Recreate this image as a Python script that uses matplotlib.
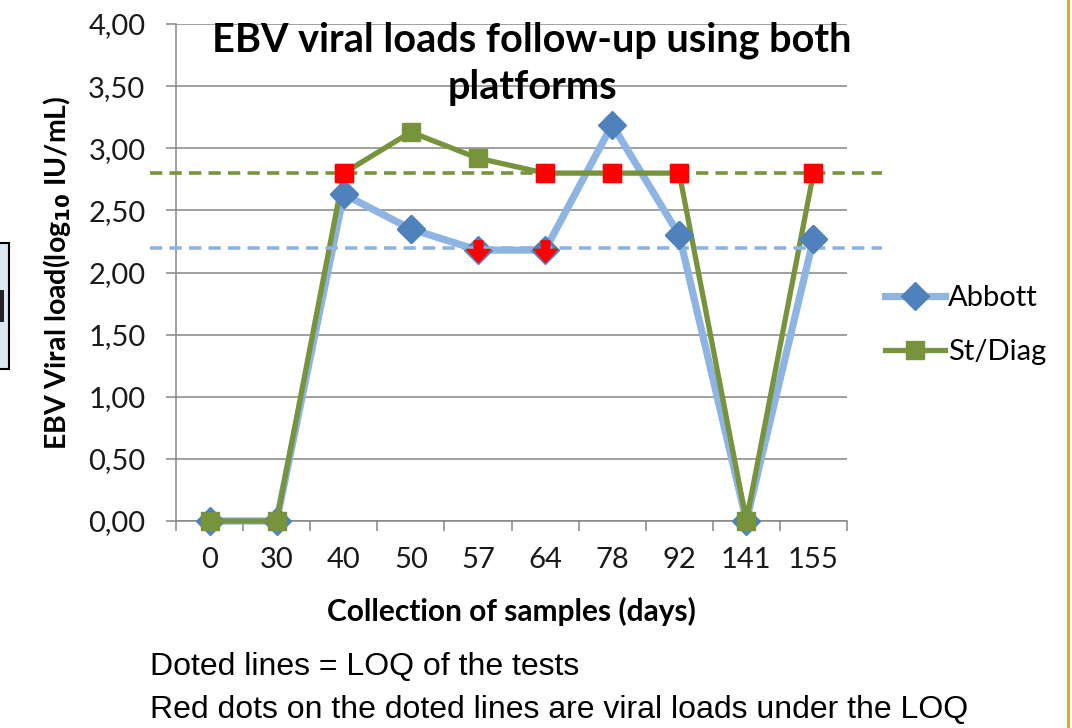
import matplotlib
matplotlib.use("Agg")
import matplotlib.pyplot as plt
from matplotlib.path import Path
from matplotlib.patches import Rectangle
from matplotlib.lines import Line2D

# --- data ---
days = ["0", "30", "40", "50", "57", "64", "78", "92", "141", "155"]
abbott = [0.00, 0.00, 2.63, 2.35, 2.18, 2.18, 3.19, 2.30, 0.00, 2.27]
stdiag = [0.00, 0.00, 2.80, 3.13, 2.92, 2.80, 2.80, 2.80, 0.00, 2.80]
loq_abbott = 2.20
loq_stdiag = 2.80
below_abbott = ["57", "64"]                       # red arrows on Abbott
below_stdiag = ["40", "64", "78", "92", "155"]    # red squares on St/Diag
yticks = [0, 0.5, 1.0, 1.5, 2.0, 2.5, 3.0, 3.5, 4.0]

BLUE_LINE = "#8DB4E2"
BLUE_MARK = "#4F81BD"
GREEN = "#77933C"
GRID = "#868686"
FONT = ["Lato", "DejaVu Sans"]

plt.rcParams["font.family"] = FONT

fig = plt.figure(figsize=(10.72, 7.28), dpi=100)
ax = fig.add_axes([176/1072, 1-521/728, 671/1072, 497/728])

x = list(range(len(days)))

ax.plot(x, abbott, color=BLUE_LINE, lw=5.2, marker="D", ms=14.5,
        mfc=BLUE_MARK, mec=BLUE_MARK, zorder=3, clip_on=False, label="Abbott")
ax.plot(x, stdiag, color=GREEN, lw=3.8, marker="s", ms=13.5,
        mfc=GREEN, mec=GREEN, zorder=4, clip_on=False, label="St/Diag")
# Abbott diamonds on top of the green line, as in the picture
ia = [2, 3, 7, 9]
ax.plot([x[i] for i in ia], [abbott[i] for i in ia], ls="none", marker="D",
        ms=14.5, mfc=BLUE_MARK, mec=BLUE_MARK, zorder=5)

# LOQ dashed lines, running past the plot area
xl = [-0.89, 10.02]
ax.plot(xl, [loq_stdiag]*2, color=GREEN, lw=2.6, ls=(0, (3.4, 2.0)),
        zorder=4.5, clip_on=False)
ax.plot(xl, [loq_abbott]*2, color=BLUE_LINE, lw=2.6, ls=(0, (3.4, 2.0)),
        zorder=4.5, clip_on=False)

# red markers for values under the LOQ
arrow = Path([(-0.2, 0.45), (0.2, 0.45), (0.2, 0.05), (0.55, 0.05),
              (0.0, -0.55), (-0.55, 0.05), (-0.2, 0.05), (-0.2, 0.45)],
             [1, 2, 2, 2, 2, 2, 2, 79])
ax.plot([days.index(d) for d in below_abbott],
        [abbott[days.index(d)] for d in below_abbott],
        ls="none", marker=arrow, ms=17, mfc="#FF0000", mec="#FF0000", zorder=7)
ax.plot([days.index(d) for d in below_stdiag],
        [stdiag[days.index(d)] for d in below_stdiag],
        ls="none", marker="s", ms=13.5, mfc="#FF0000", mec="#FF0000", zorder=7,
        clip_on=False)

# axes styling
ax.set_xlim(-0.5, len(days) - 0.5)
ax.set_ylim(0, 4)
ax.set_yticks(yticks)
ax.set_yticklabels([f"{v:.2f}".replace(".", ",") for v in yticks])
ax.set_xticks(x)
ax.set_xticklabels(days)
ax.set_xticks([i - 0.5 for i in range(len(days) + 1)], minor=True)
ax.tick_params(axis="x", which="major", length=0, pad=19, labelsize=21)
ax.tick_params(axis="x", which="minor", length=7, width=1.1, color=GRID,
               direction="out")
ax.tick_params(axis="y", length=7, width=1.1, color=GRID, pad=15, labelsize=21)
for t in ax.get_yticklabels() + ax.get_xticklabels():
    t.set_color("#1a1a1a")
ax.grid(axis="y", color=GRID, lw=1.1, zorder=0)
ax.set_axisbelow(True)
for s in ["top", "right"]:
    ax.spines[s].set_visible(False)
for s in ["left", "bottom"]:
    ax.spines[s].set_color(GRID)
    ax.spines[s].set_linewidth(1.1)

ax.set_ylabel(r"EBV Viral load(log$_{\mathbf{10}}$ IU/mL)", fontsize=20.5,
              fontweight="bold")
ax.yaxis.set_label_coords(-0.153, 0.5)
ax.set_xlabel("Collection of samples (days)", fontsize=21.5, fontweight="bold")
ax.xaxis.set_label_coords(0.5, -0.152)

fig.text(532/1072, 1-64/728, "EBV viral loads follow-up using both\nplatforms",
         ha="center", va="center", fontsize=28.5, fontweight="bold",
         linespacing=1.35)

h1 = Line2D([], [], color=BLUE_LINE, lw=5.2, marker="D", ms=14.5,
            mfc=BLUE_MARK, mec=BLUE_MARK)
h2 = Line2D([], [], color=GREEN, lw=3.8, marker="s", ms=13.5, mfc=GREEN, mec=GREEN)
fig.legend([h1, h2], ["Abbott", "St/Diag"], loc="center left",
           bbox_to_anchor=(885/1072, 1-325/728), frameon=False, fontsize=21,
           handlelength=2.05, handletextpad=0.1, labelspacing=0.95,
           borderpad=0, borderaxespad=0)

# bottom notes
fig.text(150/1072, 1-667/728, "Doted lines = LOQ of the tests",
         ha="left", va="center", fontsize=23, family="Liberation Sans")
fig.text(150/1072, 1-710/728,
         "Red dots on the doted lines are viral loads under the LOQ",
         ha="left", va="center", fontsize=23, family="Liberation Sans")

# slide decorations: box fragment on the left, gold rule on the right
fig.patches.append(Rectangle((-5/1072, 1-369/728), 14/1072, 126/728,
                             transform=fig.transFigure, facecolor="#DCE6F2",
                             edgecolor="black", lw=1.5))
fig.patches.append(Rectangle((0, 1-322/728), 4/1072, 32/728,
                             transform=fig.transFigure, facecolor="#222222",
                             edgecolor="none"))
fig.add_artist(Line2D([1067.5/1072]*2, [0, 1], transform=fig.transFigure,
                      color="#D9A83E", lw=2.2))

fig.savefig("out.png", dpi=100)
